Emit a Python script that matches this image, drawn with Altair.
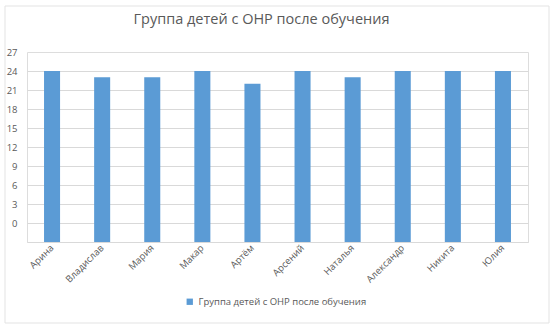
import altair as alt
import pandas as pd

names = ["Арина", "Владислав", "Мария", "Макар", "Артём", "Арсений", "Наталья", "Александр", "Никита", "Юлия"]
values = [24, 23, 23, 24, 22, 24, 23, 24, 24, 24]
series = "Группа детей с ОНР после обучения"
y_ticks = [-3, 0, 3, 6, 9, 12, 15, 18, 21, 24, 27]

df = pd.DataFrame({"name": names, "value": values, "series": series, "base": -3})

font = "Open Sans"
grey = "#595959"

bars = alt.Chart(df).mark_bar(color="#5B9BD5").encode(
    x=alt.X("name:N", sort=names, title=None,
            scale=alt.Scale(paddingInner=0.68, paddingOuter=0.34),
            axis=alt.Axis(labelAngle=-45, labelAlign="right", labelBaseline="middle",
                          labelPadding=4, ticks=False, domain=False, grid=False,
                          labelFontSize=9.5, labelColor=grey, labelFont=font)),
    y=alt.Y("value:Q", title=None,
            scale=alt.Scale(domain=[-3, 27], nice=False, zero=False),
            axis=alt.Axis(values=y_ticks, labelExpr="datum.value < 0 ? '' : datum.label",
                          ticks=False, domain=False, gridColor="#D9D9D9",
                          gridOpacity={"condition": {"test": "datum.value > 24", "value": 0}, "value": 1},
                          labelFontSize=9.5, labelColor=grey, labelFont=font, labelPadding=10)),
    y2="base:Q",
    color=alt.Color("series:N", scale=alt.Scale(range=["#5B9BD5"]),
                    legend=alt.Legend(title=None, orient="none", legendX=158, legendY=245,
                                      symbolType="square", symbolSize=40, labelLimit=0,
                                      labelFontSize=9.5, labelColor=grey, labelFont=font)),
)

frame = alt.Chart(pd.DataFrame({"k": [0]})).mark_rect(
    fill=None, stroke="#E3E3E3", strokeWidth=1
).encode(
    x=alt.value(-22), x2=alt.value(522), y=alt.value(-46), y2=alt.value(271)
)

chart = alt.layer(bars, frame).properties(
    width=501, height=190,
    title=alt.TitleParams(series, fontSize=14.5, font=font, color=grey, fontWeight="normal",
                          offset=22, dx=-16, dy=44),
    autosize=alt.AutoSizeParams(type="none"),
    padding={"left": 27, "top": 52, "right": 25, "bottom": 85},
).configure_view(stroke=None).configure(background="white")

chart.save("out.html", embed_options={"renderer": "svg", "actions": False})
